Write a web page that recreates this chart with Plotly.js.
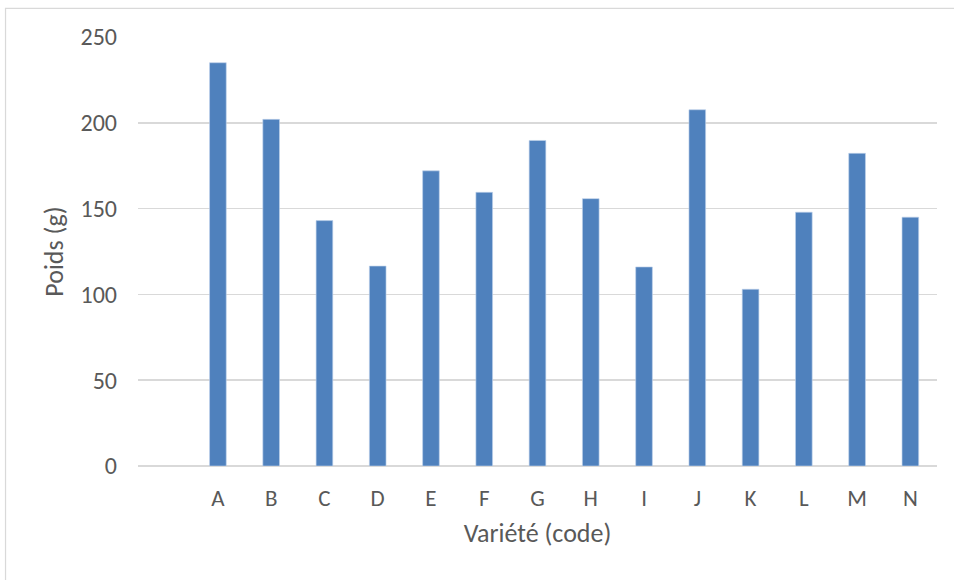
<!DOCTYPE html>
<html>
<head>
<meta charset="utf-8">
<script src="https://cdn.plot.ly/plotly-3.0.1.min.js"></script>
<style>
  html, body { margin: 0; padding: 0; background: #ffffff; }
  #chart { width: 954px; height: 580px; }
</style>
</head>
<body>
<div id="chart"></div>
<script>
// Variety codes; the leading blank keeps an empty slot before A
const categories = [' ', 'A', 'B', 'C', 'D', 'E', 'F', 'G', 'H', 'I', 'J', 'K', 'L', 'M', 'N'];
// Weight (g) per variety
const poids = [null, 235, 202, 143, 116.5, 172, 159.5, 189.7, 155.8, 116, 207.6, 103, 147.9, 182.2, 145];
const yTicks = [0, 50, 100, 150, 200, 250];

const FONT = 'Carlito, "Open Sans", "Liberation Sans", sans-serif';
const TEXT = '#595959';
const GRID = '#d9d9d9';

const trace = {
  type: 'bar',
  x: categories,
  y: poids,
  marker: { color: '#4f81bd', line: { color: 'rgba(190,210,235,0.8)', width: 0.8 } },
  hoverinfo: 'x+y'
};

const layout = {
  width: 954,
  height: 580,
  margin: { l: 138, r: 17, t: 37, b: 114 },
  paper_bgcolor: '#ffffff',
  plot_bgcolor: '#ffffff',
  showlegend: false,
  bargap: 0.687,
  font: { family: FONT, color: TEXT, size: 23 },
  xaxis: {
    type: 'category',
    categoryorder: 'array',
    categoryarray: categories,
    range: [-0.5, categories.length - 0.5],
    showgrid: false,
    zeroline: false,
    showline: false,
    ticks: '',
    ticklabelstandoff: 16,
    tickfont: { family: FONT, size: 23, color: TEXT },
    title: { text: 'Variété (code)', font: { family: FONT, size: 26, color: TEXT }, standoff: 12 }
  },
  yaxis: {
    range: [0, 250],
    tickvals: yTicks,
    ticktext: yTicks.map(String),
    showgrid: true,
    gridcolor: GRID,
    gridwidth: 1.5,
    zeroline: true,
    zerolinecolor: GRID,
    zerolinewidth: 1.5,
    showline: false,
    ticks: '',
    ticklabelstandoff: 20,
    tickfont: { family: FONT, size: 24, color: TEXT },
    title: { text: 'Poids (g)', font: { family: FONT, size: 26, color: TEXT }, standoff: 9 }
  },
  shapes: [{
    type: 'rect',
    xref: 'paper', yref: 'paper',
    x0: -0.1658, x1: 1.2, y0: -0.5, y1: 1.0669,
    line: { color: GRID, width: 1.2 },
    fillcolor: 'rgba(0,0,0,0)',
    layer: 'below'
  }]
};

Plotly.newPlot('chart', [trace], layout, { displayModeBar: false, staticPlot: true });
</script>
</body>
</html>
